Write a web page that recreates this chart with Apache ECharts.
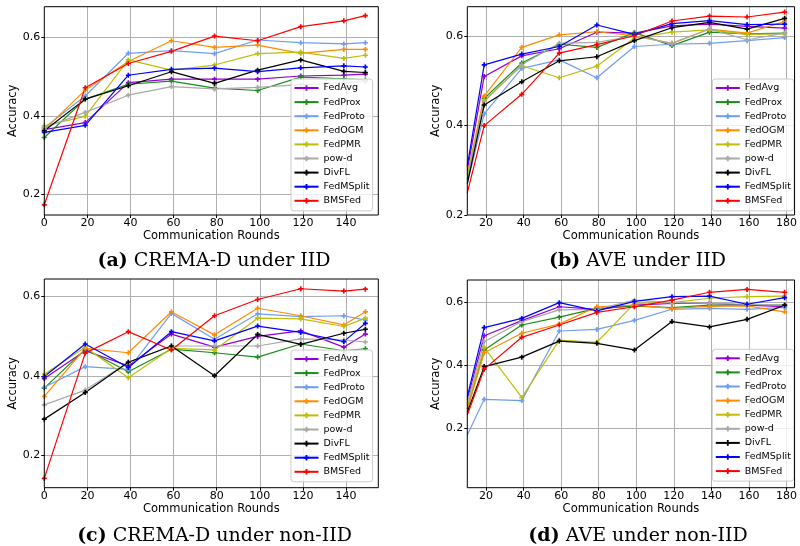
<!DOCTYPE html>
<html><head><meta charset="utf-8">
<script src="https://cdn.jsdelivr.net/npm/echarts@6/dist/echarts.min.js"></script>
<style>html,body{margin:0;padding:0;background:#fff}#c{width:800px;height:546px}</style>
</head><body><div id="c"></div><script>
// ---- data ----
const methods = ['FedAvg','FedProx','FedProto','FedOGM','FedPMR','pow-d','DivFL','FedMSplit','BMSFed'];
const colors  = ['#9400d3','#1a8c1a','#6f9ef0','#ff8c00','#bdbd0a','#a9a9a9','#000000','#0000ff','#ff0000'];
const roundsCrema = [0,19,39,59,79,99,119,139,149];
const roundsAve   = [10,19,39,59,79,99,119,139,159,179];

// (a) CREMA-D under IID
const a_FedAvg    = [0.365,0.383,0.485,0.494,0.494,0.494,0.502,0.504,0.507];
const a_FedProx   = [0.345,0.443,0.481,0.489,0.471,0.465,0.499,0.495,0.492];
const a_FedProto  = [0.370,0.451,0.560,0.567,0.559,0.594,0.587,0.584,0.587];
const a_FedOGM    = [0.365,0.466,0.539,0.592,0.575,0.581,0.560,0.570,0.570];
const a_FedPMR    = [0.375,0.399,0.543,0.517,0.530,0.559,0.563,0.547,0.555];
const a_powd      = [0.370,0.409,0.453,0.475,0.469,0.473,0.480,0.485,0.488];
const a_DivFL     = [0.362,0.443,0.477,0.513,0.483,0.517,0.543,0.514,0.511];
const a_FedMSplit = [0.358,0.376,0.504,0.519,0.522,0.513,0.523,0.528,0.525];
const a_BMSFed    = [0.173,0.472,0.534,0.565,0.604,0.592,0.628,0.643,0.656];

// (b) AVE under IID
const b_FedAvg    = [0.300,0.510,0.556,0.572,0.609,0.607,0.623,0.627,0.622,0.618];
const b_FedProx   = [0.280,0.461,0.540,0.582,0.575,0.608,0.579,0.609,0.605,0.607];
const b_FedProto  = [0.270,0.426,0.528,0.547,0.507,0.577,0.582,0.584,0.590,0.597];
const b_FedOGM    = [0.290,0.466,0.575,0.603,0.610,0.601,0.584,0.616,0.607,0.633];
const b_FedPMR    = [0.290,0.457,0.534,0.507,0.533,0.596,0.609,0.614,0.604,0.605];
const b_powd      = [0.280,0.454,0.536,0.584,0.586,0.600,0.584,0.616,0.592,0.607];
const b_DivFL     = [0.270,0.446,0.498,0.545,0.554,0.590,0.619,0.631,0.616,0.640];
const b_FedMSplit = [0.310,0.536,0.560,0.577,0.625,0.604,0.628,0.635,0.626,0.627];
const b_BMSFed    = [0.250,0.400,0.470,0.562,0.581,0.601,0.634,0.645,0.643,0.654];

// (c) CREMA-D under non-IID
const c_FedAvg    = [0.393,0.463,0.425,0.505,0.472,0.499,0.513,0.472,0.505];
const c_FedProx   = [0.369,0.467,0.410,0.467,0.458,0.447,0.480,0.463,0.468];
const c_FedProto  = [0.371,0.423,0.416,0.557,0.492,0.556,0.549,0.551,0.540];
const c_FedOGM    = [0.348,0.469,0.458,0.561,0.503,0.570,0.551,0.528,0.561];
const c_FedPMR    = [0.404,0.472,0.395,0.469,0.465,0.545,0.543,0.524,0.545];
const c_powd      = [0.327,0.364,0.434,0.475,0.475,0.475,0.493,0.490,0.485];
const c_DivFL     = [0.291,0.358,0.434,0.475,0.400,0.504,0.479,0.507,0.517];
const c_FedMSplit = [0.398,0.480,0.421,0.511,0.488,0.525,0.509,0.486,0.532];
const c_BMSFed    = [0.142,0.457,0.511,0.465,0.551,0.592,0.619,0.613,0.618];

// (d) AVE under non-IID
const d_FedAvg    = [0.290,0.493,0.541,0.585,0.577,0.590,0.596,0.596,0.590,0.585];
const d_FedProx   = [0.260,0.448,0.527,0.552,0.580,0.587,0.582,0.590,0.590,0.590];
const d_FedProto  = [0.178,0.291,0.287,0.508,0.513,0.542,0.577,0.580,0.577,0.583];
const d_FedOGM    = [0.260,0.439,0.501,0.530,0.585,0.590,0.580,0.586,0.588,0.569];
const d_FedPMR    = [0.270,0.456,0.297,0.479,0.472,0.596,0.598,0.612,0.617,0.619];
const d_powd      = [0.280,0.474,0.538,0.575,0.577,0.606,0.598,0.596,0.593,0.590];
const d_DivFL     = [0.250,0.395,0.425,0.476,0.469,0.448,0.538,0.521,0.545,0.590];
const d_FedMSplit = [0.300,0.519,0.548,0.598,0.572,0.602,0.617,0.619,0.593,0.614];
const d_BMSFed    = [0.241,0.387,0.488,0.527,0.567,0.585,0.606,0.631,0.640,0.631];

const captions = ['(a)|CREMA-D under IID','(b)|AVE under IID','(c)|CREMA-D under non-IID','(d)|AVE under non-IID'];

// ---- build ----
const panels = [
  {rounds: roundsCrema, vals:[a_FedAvg,a_FedProx,a_FedProto,a_FedOGM,a_FedPMR,a_powd,a_DivFL,a_FedMSplit,a_BMSFed]},
  {rounds: roundsAve,   vals:[b_FedAvg,b_FedProx,b_FedProto,b_FedOGM,b_FedPMR,b_powd,b_DivFL,b_FedMSplit,b_BMSFed]},
  {rounds: roundsCrema, vals:[c_FedAvg,c_FedProx,c_FedProto,c_FedOGM,c_FedPMR,c_powd,c_DivFL,c_FedMSplit,c_BMSFed]},
  {rounds: roundsAve,   vals:[d_FedAvg,d_FedProx,d_FedProto,d_FedOGM,d_FedPMR,d_powd,d_DivFL,d_FedMSplit,d_BMSFed]}
];
const layout = [
  {grid:{left:44.3,top:6.7,width:334,height:208.3}, x:[0,155], y:[0.147,0.679], xMinLbl:true, yMinLbl:false, leg:{left:291,top:79}, cap:[214,261.5]},
  {grid:{left:467.3,top:6.7,width:331.7,height:208.3}, x:[10,184.3], y:[0.2,0.666], xMinLbl:false, yMinLbl:true, leg:{left:712.3,top:79}, cap:[637.5,261.5]},
  {grid:{left:44.3,top:279,width:334,height:208.7}, x:[0,155], y:[0.1185,0.6435], xMinLbl:true, yMinLbl:false, leg:{left:291,top:350}, cap:[214.5,536]},
  {grid:{left:467.3,top:280,width:331.7,height:207.7}, x:[10,184.3], y:[0.0105,0.67], xMinLbl:false, yMinLbl:false, leg:{left:712.3,top:349.3}, cap:[638,536]}
];
const FONT = 'DejaVu Sans';
const plusSym = 'path://M3,0H6V3H9V6H6V9H3V6H0V3H3Z';

const grids=[], xAxes=[], yAxes=[], series=[], legends=[], graphics=[];
layout.forEach((L,i)=>{
  grids.push(Object.assign({show:true, borderColor:'#000', borderWidth:1, backgroundColor:'transparent', z:5}, L.grid));
  xAxes.push({type:'value', gridIndex:i, min:L.x[0], max:L.x[1], splitNumber:8, minInterval:20, maxInterval:20,
    name:'Communication Rounds', nameLocation:'middle', nameGap:14,
    nameTextStyle:{fontFamily:FONT, fontSize:11.5, color:'#000'},
    axisLine:{show:false}, axisTick:{show:true, length:3, lineStyle:{color:'#000'}},
    axisLabel:{fontFamily:FONT, fontSize:11, color:'#000', margin:3, showMinLabel:L.xMinLbl, showMaxLabel:false},
    splitLine:{show:true, showMinLine:false, showMaxLine:false, lineStyle:{color:'#b0b0b0', width:1}}});
  yAxes.push({type:'value', gridIndex:i, min:L.y[0], max:L.y[1], splitNumber:3, minInterval:0.2, maxInterval:0.2,
    name:'Accuracy', nameLocation:'middle', nameGap:22,
    nameTextStyle:{fontFamily:FONT, fontSize:11.5, color:'#000'},
    axisLine:{show:false}, axisTick:{show:true, length:3, lineStyle:{color:'#000'}},
    axisLabel:{fontFamily:FONT, fontSize:11, color:'#000', margin:4, showMinLabel:L.yMinLbl, showMaxLabel:false,
      formatter:v=>v.toFixed(1)},
    splitLine:{show:true, showMinLine:false, showMaxLine:false, lineStyle:{color:'#b0b0b0', width:1}}});
  const P = panels[i];
  methods.forEach((m,k)=>{
    const data = P.rounds.map((r,j)=>{
      const it = {value:[r, P.vals[k][j]]};
      if (P.rounds === roundsAve && j===0) it.symbol='none';
      return it;
    });
    series.push({type:'line', name:m, xAxisIndex:i, yAxisIndex:i, data,
      symbol:plusSym, symbolSize:5, showSymbol:true, clip:true,
      lineStyle:{color:colors[k], width:1.2}, itemStyle:{color:colors[k]},
      emphasis:{disabled:true}, animation:false});
  });
  legends.push({data:methods, orient:'vertical', left:L.leg.left, top:L.leg.top,
    padding:[3,3,4,2.5], itemGap:2.1, itemWidth:24, itemHeight:7,
    backgroundColor:'rgba(255,255,255,0.8)', borderColor:'#cccccc', borderWidth:1, borderRadius:3,
    textStyle:{fontFamily:FONT, fontSize:9.5, color:'#000', lineHeight:12},
    selectedMode:false});
  const parts = captions[i].split('|');
  graphics.push({type:'text', x:L.cap[0], y:L.cap[1], style:{
    text:'{b|'+parts[0]+'} {n|'+parts[1]+'}',
    rich:{b:{fontFamily:'DejaVu Serif', fontSize:19, fontWeight:'bold', fill:'#000'},
          n:{fontFamily:'DejaVu Serif', fontSize:19, fill:'#000'}},
    fontFamily:'DejaVu Serif', fontSize:19, fill:'#000',
    align:'center', verticalAlign:'middle', textAlign:'center', textVerticalAlign:'middle'}});
});

const chart = echarts.init(document.getElementById('c'), null, {renderer:'canvas'});
chart.setOption({animation:false, backgroundColor:'#fff', grid:grids, xAxis:xAxes, yAxis:yAxes,
  series, legend:legends, graphic:graphics, tooltip:{show:false}});
</script></body></html>
